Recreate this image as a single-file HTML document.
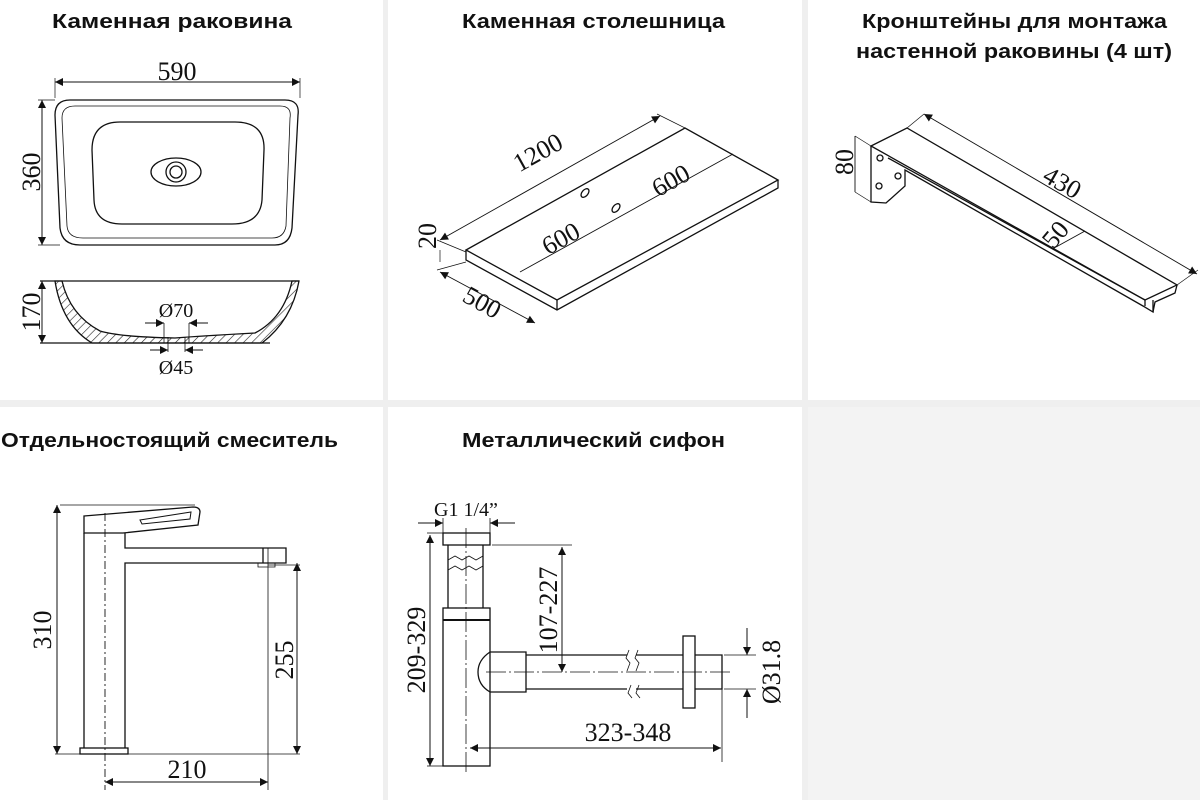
<!DOCTYPE html>
<html><head><meta charset="utf-8"><style>
html,body{margin:0;padding:0;background:#efefef;}
svg{display:block}
.t{font-family:"Liberation Sans",sans-serif;font-weight:bold;font-size:20px;fill:#111}
.d{font-family:"Liberation Serif",serif;font-size:26px;fill:#111}
.s{font-family:"Liberation Serif",serif;font-size:20px;fill:#111}
</style></head><body>
<svg width="1200" height="800" viewBox="0 0 1200 800" xmlns="http://www.w3.org/2000/svg">
<defs>
<marker id="a" viewBox="0 0 10 10" refX="10" refY="5" markerWidth="12" markerHeight="8" orient="auto-start-reverse" markerUnits="userSpaceOnUse"><path d="M0,0L10,5L0,10z" fill="#111"/></marker>
<pattern id="h" width="6" height="6" patternUnits="userSpaceOnUse" patternTransform="rotate(45)"><line x1="0" y1="0" x2="0" y2="6" stroke="#222" stroke-width="1.2"/></pattern>
</defs>
<rect x="0" y="0" width="383" height="400" fill="#fff"/>
<rect x="388" y="0" width="414" height="400" fill="#fff"/>
<rect x="808" y="0" width="392" height="400" fill="#fff"/>
<rect x="0" y="407" width="383" height="393" fill="#fff"/>
<rect x="388" y="407" width="414" height="393" fill="#fff"/>
<rect x="808" y="407" width="392" height="393" fill="#f3f3f3"/>

<text class="t" x="52" y="28" textLength="240" lengthAdjust="spacingAndGlyphs">Каменная раковина</text>
<text class="t" x="462" y="28" textLength="263" lengthAdjust="spacingAndGlyphs">Каменная столешница</text>
<text class="t" x="862" y="28" textLength="305" lengthAdjust="spacingAndGlyphs">Кронштейны для монтажа</text>
<text class="t" x="856" y="58" textLength="316" lengthAdjust="spacingAndGlyphs">настенной раковины (4 шт)</text>
<text class="t" x="1" y="447" textLength="337" lengthAdjust="spacingAndGlyphs">Отдельностоящий смеситель</text>
<text class="t" x="462" y="447" textLength="263" lengthAdjust="spacingAndGlyphs">Металлический сифон</text>

<g fill="none" stroke="#111" stroke-width="1.3">
<!-- sink top -->
<path d="M70,100 H285 Q300,100 298,115 L292,228 Q290,245 275,245 H80 Q62,245 60,228 L55,115 Q55,100 70,100Z"/>
<path d="M75,106 H280 Q292,106 290,118 L286,226 Q284,238 272,238 H83 Q68,238 67,226 L62,118 Q62,106 75,106Z" stroke-width="0.8"/>
<path d="M120,122 H235 Q265,122 264,150 L262,200 Q260,224 232,224 H122 Q95,224 94,200 L92,150 Q92,122 120,122Z"/>
<ellipse cx="176" cy="172" rx="25" ry="14"/><circle cx="176" cy="172" r="10"/><circle cx="176" cy="172" r="6"/>
<line x1="55" y1="82" x2="300" y2="82" marker-start="url(#a)" marker-end="url(#a)" stroke-width="1"/>
<line x1="55" y1="78" x2="55" y2="98" stroke-width="0.7"/><line x1="300" y1="78" x2="300" y2="98" stroke-width="0.7"/>
<line x1="42" y1="100" x2="42" y2="245" marker-start="url(#a)" marker-end="url(#a)" stroke-width="1"/>
<line x1="38" y1="100" x2="55" y2="100" stroke-width="0.7"/><line x1="38" y1="245" x2="60" y2="245" stroke-width="0.7"/>
<!-- sink side -->
<line x1="40" y1="281" x2="299" y2="281"/>
<path d="M55,281 Q62,325 92,343 L262,343 Q292,320 299,281 L292,281 Q284,318 255,333 Q200,336 175,338 Q120,337 100,331 Q70,315 62,281Z" fill="url(#h)"/>
<line x1="40" y1="343" x2="270" y2="343"/>
<line x1="42" y1="281" x2="42" y2="343" marker-start="url(#a)" marker-end="url(#a)" stroke-width="1"/>
<line x1="145" y1="323" x2="164" y2="323" marker-end="url(#a)" stroke-width="1"/><line x1="208" y1="323" x2="189" y2="323" marker-end="url(#a)" stroke-width="1"/>
<line x1="164" y1="323" x2="164" y2="343" stroke-width="0.8"/><line x1="189" y1="323" x2="189" y2="343" stroke-width="0.8"/>
<line x1="150" y1="350" x2="168" y2="350" marker-end="url(#a)" stroke-width="1"/><line x1="203" y1="350" x2="185" y2="350" marker-end="url(#a)" stroke-width="1"/>
<line x1="168" y1="337" x2="168" y2="352" stroke-width="0.8"/><line x1="185" y1="337" x2="185" y2="352" stroke-width="0.8"/>

<!-- countertop -->
<path d="M466,250 L685,128 L778,180 L557,300Z"/>
<path d="M466,250 L466,260 L557,310 L778,188 L778,180 M557,300 L557,310"/>
<line x1="520" y1="272" x2="733" y2="154" stroke-width="0.9"/>
<ellipse cx="585" cy="193" rx="3" ry="5" transform="rotate(40 585 193)"/>
<ellipse cx="616" cy="208" rx="3" ry="5" transform="rotate(40 616 208)"/>
<line x1="440" y1="240" x2="660" y2="116" stroke-width="0.9" marker-start="url(#a)" marker-end="url(#a)"/>
<line x1="437" y1="240" x2="466" y2="252" stroke-width="0.7"/><line x1="657" y1="114" x2="685" y2="128" stroke-width="0.7"/>
<line x1="440" y1="250" x2="440" y2="262" stroke-width="0.7"/>
<line x1="440" y1="272" x2="535" y2="323" stroke-width="0.9" marker-start="url(#a)" marker-end="url(#a)"/>
<line x1="437" y1="270" x2="466" y2="262" stroke-width="0.7"/>

<!-- bracket -->
<path d="M871,146 L907,128 L1177,285 L1145,300 Z"/>
<line x1="888" y1="158" x2="1145" y2="300"/>
<path d="M871,146 L871,202 L886,203 L905,186 L905,170 L1143,306 L1153,312 L1153,300"/>
<path d="M1145,300 L1145,306 M1177,285 L1175,293 L1155,302 L1153,312"/>
<circle cx="880" cy="158" r="3"/><circle cx="898" cy="176" r="3"/><circle cx="879" cy="186" r="3"/>
<line x1="924" y1="114" x2="1197" y2="274" stroke-width="0.9" marker-start="url(#a)" marker-end="url(#a)"/>
<line x1="907" y1="128" x2="924" y2="114" stroke-width="0.7"/><line x1="1177" y1="285" x2="1198" y2="270" stroke-width="0.7"/>
<line x1="855" y1="136" x2="855" y2="192" stroke-width="0.9"/>
<line x1="855" y1="136" x2="871" y2="146" stroke-width="0.7"/><line x1="855" y1="192" x2="871" y2="202" stroke-width="0.7"/>
<line x1="1056" y1="247" x2="1085" y2="231" stroke-width="0.9"/>

<!-- faucet -->
<path d="M84,516 L193,507 Q200,507 200,512 L198,525 L123,533 L84,533Z"/>
<path d="M140,520 L191,512 L190,519 L142,524Z" stroke-width="1"/>
<line x1="60" y1="505" x2="195" y2="505" stroke-width="0.8"/>
<path d="M84,533 V748 M125,533 V548 H286 V563 H125 V748"/>
<line x1="263" y1="548" x2="263" y2="563"/>
<path d="M258,563 H275 V567 H258Z" stroke-width="0.8"/>
<rect x="80" y="748" width="48" height="6"/>
<line x1="105" y1="513" x2="105" y2="790" stroke-dasharray="8,3,2,3" stroke-width="0.9"/>
<line x1="57" y1="505" x2="57" y2="754" stroke-width="1" marker-start="url(#a)" marker-end="url(#a)"/>
<line x1="55" y1="754" x2="300" y2="754" stroke-width="0.8"/>
<line x1="297" y1="563" x2="297" y2="754" stroke-width="1" marker-start="url(#a)" marker-end="url(#a)"/>
<line x1="268" y1="565" x2="300" y2="565" stroke-width="0.8"/>
<line x1="268" y1="548" x2="268" y2="790" stroke-width="0.8"/>
<line x1="105" y1="782" x2="268" y2="782" stroke-width="1" marker-start="url(#a)" marker-end="url(#a)"/>

<!-- siphon -->
<rect x="443" y="533" width="47" height="12"/>
<path d="M448,545 V608 M483,545 V608" />
<path d="M448,560 l7,-4 7,4 7,-4 7,4 7,-4 M448,570 l7,-4 7,4 7,-4 7,4 7,-4" stroke-width="0.8"/>
<rect x="443" y="608" width="47" height="158"/>
<line x1="443" y1="620" x2="490" y2="620" stroke-width="2"/>
<line x1="466" y1="528" x2="466" y2="772" stroke-width="0.8" stroke-dasharray="20,3,2,3"/>
<path d="M490,652 H526 V692 H490 Q478,685 478,672 Q478,660 490,652"/>
<path d="M526,655 H627 M636,655 H683 M526,689 H627 M636,689 H683"/>
<path d="M629,650 l-3,8 4,5 -3,8 M631,685 l-3,8 4,5 M638,650 l-3,8 4,5 -3,8 M639,685 l-3,8 4,5" stroke-width="0.8"/>
<rect x="683" y="636" width="12" height="72"/>
<path d="M695,655 H722 V689 H695"/>
<line x1="486" y1="672" x2="730" y2="672" stroke-width="0.8" stroke-dasharray="20,3,2,3"/>
<line x1="492" y1="545" x2="572" y2="545" stroke-width="0.8"/>
<line x1="562" y1="547" x2="562" y2="672" stroke-width="1" marker-start="url(#a)" marker-end="url(#a)"/>
<line x1="427" y1="533" x2="443" y2="533" stroke-width="0.8"/><line x1="427" y1="766" x2="443" y2="766" stroke-width="0.8"/>
<line x1="430" y1="535" x2="430" y2="766" stroke-width="1" marker-start="url(#a)" marker-end="url(#a)"/>
<line x1="470" y1="748" x2="721" y2="748" stroke-width="1" marker-start="url(#a)" marker-end="url(#a)"/>
<line x1="722" y1="689" x2="722" y2="762" stroke-width="0.8"/>
<line x1="724" y1="655" x2="756" y2="655" stroke-width="0.8"/><line x1="724" y1="689" x2="756" y2="689" stroke-width="0.8"/>
<line x1="747" y1="628" x2="747" y2="655" stroke-width="1" marker-end="url(#a)"/>
<line x1="747" y1="718" x2="747" y2="689" stroke-width="1" marker-end="url(#a)"/>
<line x1="418" y1="523" x2="443" y2="523" stroke-width="1" marker-end="url(#a)"/>
<line x1="515" y1="523" x2="490" y2="523" stroke-width="1" marker-end="url(#a)"/>
<line x1="443" y1="518" x2="443" y2="533" stroke-width="0.8"/><line x1="490" y1="518" x2="490" y2="533" stroke-width="0.8"/>
</g>

<text class="d" x="177" y="80" text-anchor="middle">590</text>
<text class="d" transform="translate(40,172) rotate(-90)" text-anchor="middle">360</text>
<text class="d" transform="translate(40,312) rotate(-90)" text-anchor="middle">170</text>
<text class="s" x="176" y="317" text-anchor="middle">Ø70</text>
<text class="s" x="176" y="374" text-anchor="middle">Ø45</text>
<text class="d" transform="translate(542,160) rotate(-29)" text-anchor="middle">1200</text>
<text class="d" transform="translate(675,188) rotate(-29)" text-anchor="middle">600</text>
<text class="d" transform="translate(565,246) rotate(-29)" text-anchor="middle">600</text>
<text class="d" transform="translate(436,236) rotate(-90)" text-anchor="middle">20</text>
<text class="d" transform="translate(478,310) rotate(29)" text-anchor="middle">500</text>
<text class="d" transform="translate(853,162) rotate(-90)" text-anchor="middle">80</text>
<text class="d" transform="translate(1058,190) rotate(30)" text-anchor="middle">430</text>
<text class="d" transform="translate(1062,240) rotate(-50)" text-anchor="middle">50</text>
<text class="d" transform="translate(51,630) rotate(-90)" text-anchor="middle">310</text>
<text class="d" transform="translate(293,660) rotate(-90)" text-anchor="middle">255</text>
<text class="d" x="187" y="778" text-anchor="middle">210</text>
<text class="s" x="466" y="516" text-anchor="middle">G1 1/4”</text>
<text class="d" transform="translate(425,650) rotate(-90)" text-anchor="middle">209-329</text>
<text class="d" transform="translate(557,610) rotate(-90)" text-anchor="middle">107-227</text>
<text class="d" transform="translate(780,672) rotate(-90)" text-anchor="middle">Ø31.8</text>
<text class="d" x="628" y="741" text-anchor="middle">323-348</text>
</svg>
</body></html>
